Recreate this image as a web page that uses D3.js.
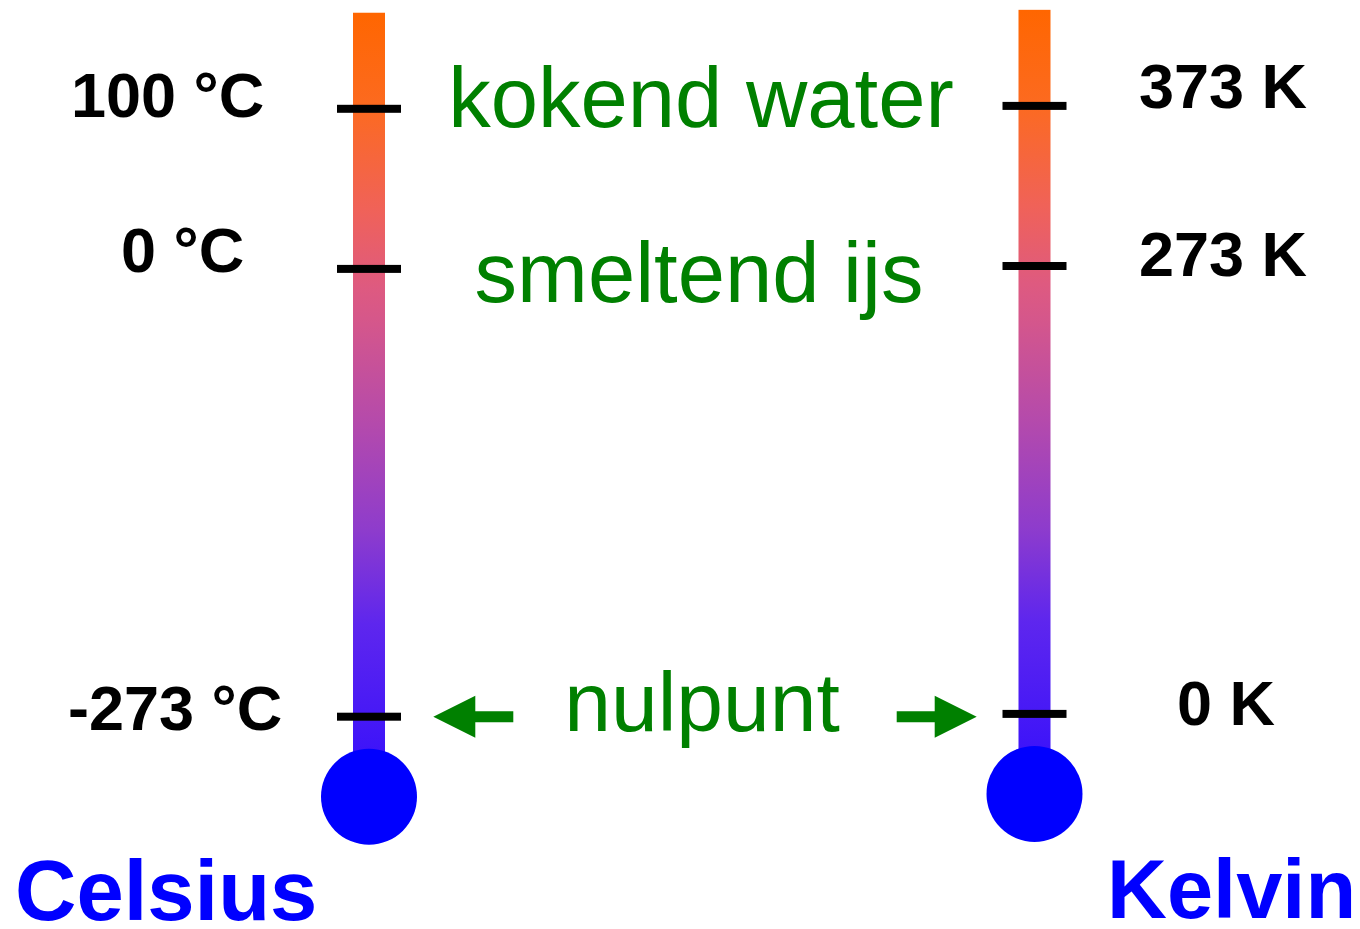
<!DOCTYPE html>
<html>
<head>
<meta charset="utf-8">
<script src="https://cdn.jsdelivr.net/npm/d3@7"></script>
<style>
  html, body { margin: 0; padding: 0; background: #fff; }
  svg { display: block; }
</style>
</head>
<body>
<div id="chart"></div>
<script>
// fixed points of both scales
const fixedPoints = ['kokend water', 'smeltend ijs', 'nulpunt'];
const celsiusValues = [100, 0, -273];
const celsiusLabels = ['100 °C', '0 °C', '-273 °C'];
const kelvinValues = [373, 273, 0];
const kelvinLabels = ['373 K', '273 K', '0 K'];
const scaleNames = ['Celsius', 'Kelvin'];
const tubeTop = {Celsius: 160, Kelvin: 433};

// gradient colours along the tube, top to bottom
const gradientOffsets = [0, 0.12, 0.25, 0.35, 0.39, 0.525, 0.66, 0.78, 0.96, 1];
const gradientColors = ['#ff6600', '#fc6a20', '#f06258', '#de5a80', '#d6578a',
  '#b44aac', '#8e3ccc', '#5e26ee', '#3a12fa', '#3311ff'];

const width = 1360;
const height = 929;

const svg = d3.select('#chart')
  .append('svg')
  .attr('width', width)
  .attr('height', height);

const defs = svg.append('defs');
const grad = defs.append('linearGradient')
  .attr('id', 'tubeGrad')
  .attr('x1', 0).attr('y1', 0)
  .attr('x2', 0).attr('y2', 1);
grad.selectAll('stop')
  .data(gradientOffsets)
  .enter()
  .append('stop')
  .attr('offset', d => d)
  .attr('stop-color', (d, i) => gradientColors[i]);

// the drawing is hand made, so the scales are slightly piecewise
const yC = d3.scaleLinear()
  .domain([-273, 0, 100])
  .range([716.7, 268.9, 108.8]);
const yK = d3.scaleLinear()
  .domain([0, 273, 373])
  .range([713.9, 266, 105.9]);

const thermos = [
  {
    name: scaleNames[0], cx: 369, y: yC, values: celsiusValues, labels: celsiusLabels,
    labelX: [71, 121, 68], labelDy: [8, 3, 13],
    nameX: 15, nameY: 920, nameSize: 85
  },
  {
    name: scaleNames[1], cx: 1034.5, y: yK, values: kelvinValues, labels: kelvinLabels,
    labelX: [1139, 1139, 1177], labelDy: [2.5, 10, 11],
    nameX: 1107, nameY: 917.5, nameSize: 83
  }
];

const tubeW = 32;
const tickW = 64;
const bulbR = 48;

thermos.forEach(t => {
  const g = svg.append('g');
  const zeroY = t.y(t.values[2]);
  const bulbY = zeroY + 80;

  g.append('rect')
    .attr('x', t.cx - tubeW / 2)
    .attr('y', t.y(tubeTop[t.name]))
    .attr('width', tubeW)
    .attr('height', bulbY - t.y(tubeTop[t.name]))
    .attr('fill', 'url(#tubeGrad)');

  g.append('circle')
    .attr('cx', t.cx)
    .attr('cy', bulbY)
    .attr('r', bulbR)
    .attr('fill', '#0000ff');

  g.selectAll('rect.tick')
    .data(t.values)
    .enter()
    .append('rect')
    .attr('class', 'tick')
    .attr('x', t.cx - tickW / 2)
    .attr('y', d => t.y(d) - 4)
    .attr('width', tickW)
    .attr('height', 8)
    .attr('fill', '#000');

  g.selectAll('text.val')
    .data(t.values)
    .enter()
    .append('text')
    .attr('class', 'val')
    .attr('x', (d, i) => t.labelX[i])
    .attr('y', (d, i) => t.y(d) + t.labelDy[i])
    .attr('font-family', '"Liberation Sans", Arial, sans-serif')
    .attr('font-weight', 'bold')
    .attr('font-size', 63)
    .attr('fill', '#000')
    .text((d, i) => t.labels[i]);

  g.append('text')
    .attr('x', t.nameX)
    .attr('y', t.nameY)
    .attr('font-family', '"Liberation Sans", Arial, sans-serif')
    .attr('font-weight', 'bold')
    .attr('font-size', t.nameSize)
    .attr('fill', '#0000ff')
    .text(t.name);
});

// green captions between the thermometers
const captionX = [701, 699, 702];
const captionY = [yC(100) + 18.5, yC(0) + 33, yC(-273) + 14];
svg.selectAll('text.caption')
  .data(fixedPoints)
  .enter()
  .append('text')
  .attr('class', 'caption')
  .attr('x', (d, i) => captionX[i])
  .attr('y', (d, i) => captionY[i])
  .attr('text-anchor', 'middle')
  .attr('font-family', '"Liberation Sans", Arial, sans-serif')
  .attr('font-size', (d, i) => i < 2 ? 85 : 84)
  .attr('fill', '#008000')
  .text(d => d);

// arrows pointing to absolute zero
function arrow(tipX, y, dir) {
  // dir = -1 points left, +1 points right
  const headL = 42;
  const headH = 21;
  const shaftL = 38;
  const shaftH = 5.5;
  const b = tipX - dir * headL;
  const e = b - dir * shaftL;
  return `M${tipX},${y} L${b},${y - headH} L${b},${y - shaftH} L${e},${y - shaftH}` +
    ` L${e},${y + shaftH} L${b},${y + shaftH} L${b},${y + headH} Z`;
}

const arrowY = yC(-273);
svg.append('path')
  .attr('d', arrow(433.3, arrowY, -1))
  .attr('fill', '#008000');
svg.append('path')
  .attr('d', arrow(976.7, arrowY, 1))
  .attr('fill', '#008000');
</script>
</body>
</html>
